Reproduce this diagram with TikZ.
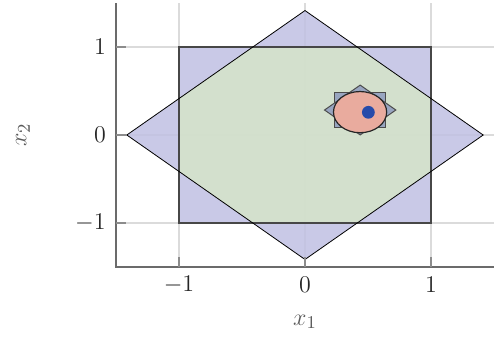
\documentclass[tikz,border=0pt]{standalone}
\begin{document}
\begin{tikzpicture}[x=63pt,y=44pt,
  gridl/.style={draw=black!14,line width=0.7pt},
  axl/.style={draw=black!58,line width=0.65pt},
  tickl/.style={draw=black!45,line width=0.6pt},
  lbl/.style={text=black!85,inner sep=0pt,font=\fontsize{12.5}{14}\selectfont},
  albl/.style={text=black!65,inner sep=0pt,font=\fontsize{12.5}{14}\selectfont}]
\definecolor{lav}{RGB}{192,192,227}
\definecolor{grn}{RGB}{213,228,201}
\definecolor{smallf}{RGB}{152,165,192}
\definecolor{salm}{RGB}{233,171,158}
\definecolor{dotb}{RGB}{38,75,170}
\useasboundingbox (-2.4206,-2.3182) rectangle (1.5,1.5341);
% grid
\foreach \v in {-1,0,1} {
  \draw[gridl] (\v,-1.5) -- (\v,1.5);
  \draw[gridl] (-1.5,\v) -- (1.5,\v);
}
% fills
\fill[lav,fill opacity=0.85] (-1,-1) -- (-1,1) -- (-0.4142,1) -- (0,1.4142) -- (0.4142,1) -- (1,1) -- (1,0.4142) -- (1.4142,0) -- (1,-0.4142) -- (1,-1) -- (0.4142,-1) -- (0,-1.4142) -- (-0.4142,-1) -- cycle;
\fill[lav,fill opacity=0.85] (-1,0.4142) -- (-1.4142,0) -- (-1,-0.4142) -- cycle;
\fill[grn,fill opacity=0.85] (1,0.4142) -- (0.4142,1) -- (-0.4142,1) -- (-1,0.4142) -- (-1,-0.4142) -- (-0.4142,-1) -- (0.4142,-1) -- (1,-0.4142) -- cycle;
% outlines
\draw[draw=black!72,line width=0.6pt] (-1,-1) rectangle (1,1);
\draw[black,line width=0.4pt] (-1.4142,0) -- (0,1.4142) -- (1.4142,0) -- (0,-1.4142) -- cycle;
% small set
\filldraw[fill=smallf,draw=black!70,line width=0.5pt] (0.238,0.084) rectangle (0.638,0.484);
\filldraw[fill=smallf,draw=black!70,line width=0.5pt] (0.155,0.284) -- (0.438,0.567) -- (0.721,0.284) -- (0.438,0.001) -- cycle;
\filldraw[fill=salm,draw=black!85,line width=0.6pt] (0.437,0.26) ellipse [x radius=13.3pt,y radius=10.3pt];
\fill[dotb] (0.503,0.258) circle [radius=3.2pt];
% axes
\draw[axl] (-1.5,1.5) -- (-1.5,-1.5) -- (1.5,-1.5);
\foreach \v in {-1,0,1} {
  \draw[tickl] (\v,-1.5) -- ++(0,5pt);
  \draw[tickl] (-1.5,\v) -- ++(5pt,0);
}
% labels
\node[lbl] (xm1) at (-1,-1.705) {$-1$};
\node[lbl] (x0) at (0,-1.705) {$0$};
\node[lbl] (x1) at (1,-1.705) {$1$};
\node[lbl,anchor=east] (ym1) at (-1.5,-1) [xshift=-5pt] {$-1$};
\node[lbl] (y0) at (-1.627,0) {$0$};
\node[lbl] (y1) at (-1.627,1) {$1$};
\node[albl] (xl) at (0,-2.125) {$x_1$};
\node[albl,rotate=90] (yl) at (-2.238,0) {$x_2$};
\end{tikzpicture}
\end{document}
